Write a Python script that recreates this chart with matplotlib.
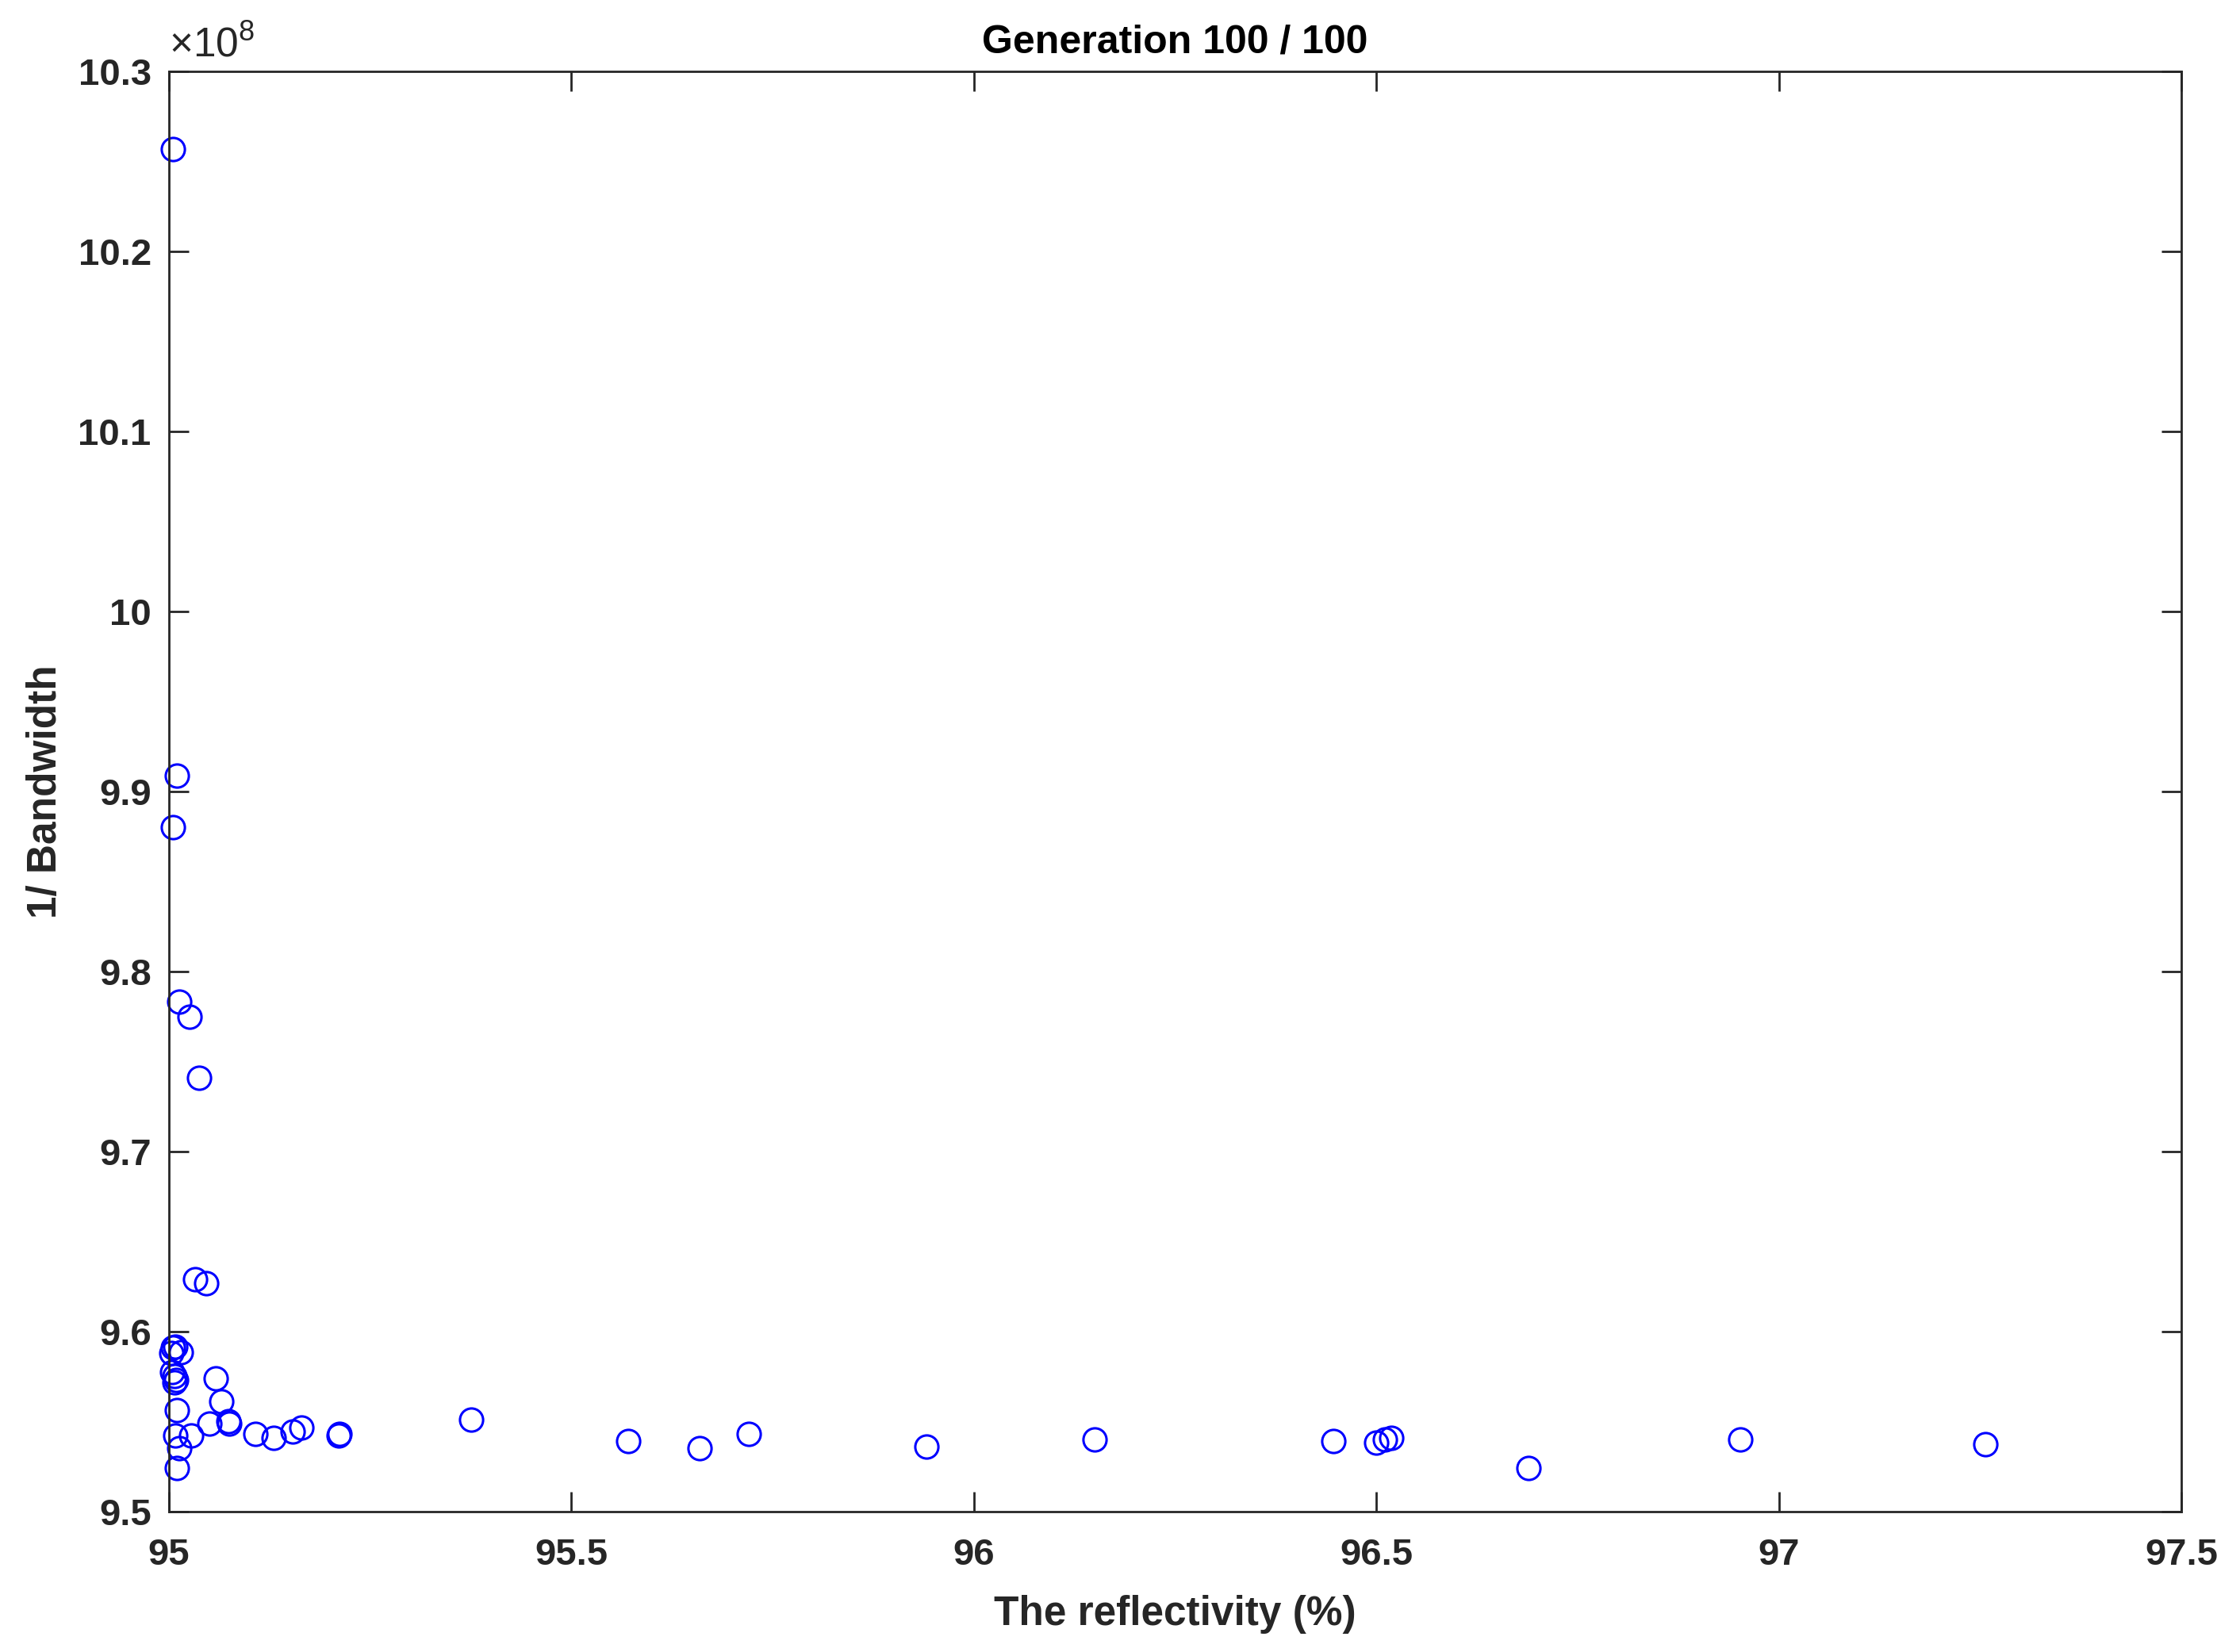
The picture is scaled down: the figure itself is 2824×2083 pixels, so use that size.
import matplotlib
matplotlib.use('Agg')
import matplotlib.pyplot as plt
from matplotlib.ticker import FuncFormatter

# reflectivity (%) and 1/bandwidth (in units of 1e8)
reflectivity = [95.005, 95.010, 95.005, 95.013, 95.026, 95.038, 95.033, 95.046,
                95.005, 95.008, 95.015, 95.003, 95.004, 95.007, 95.009, 95.007,
                95.0585, 95.065, 95.010, 95.050, 95.075, 95.074, 95.028, 95.008,
                95.013, 95.010, 95.107, 95.130, 95.154, 95.165, 95.211, 95.212,
                95.3756, 95.571, 95.659, 95.720, 95.941, 96.150, 96.447, 96.4995,
                96.511, 96.519, 96.689, 96.952, 97.257]
inv_bandwidth = [10.257, 9.909, 9.880, 9.7834, 9.775, 9.741, 9.629, 9.627,
                 9.591, 9.5915, 9.5885, 9.588, 9.5775, 9.5753, 9.573, 9.5717,
                 9.5739, 9.5614, 9.5563, 9.549, 9.549, 9.5504, 9.5423, 9.5423,
                 9.535, 9.524, 9.543, 9.5408, 9.5445, 9.5467, 9.5423, 9.543,
                 9.5511, 9.5392, 9.5353, 9.5432, 9.536, 9.540, 9.5393, 9.5382,
                 9.540, 9.5408, 9.5241, 9.540, 9.5376]
x_ticks = [95, 95.5, 96, 96.5, 97, 97.5]
y_ticks = [9.5, 9.6, 9.7, 9.8, 9.9, 10, 10.1, 10.2, 10.3]

plt.rcParams['font.family'] = ['Liberation Sans', 'DejaVu Sans']
plt.rcParams['mathtext.fontset'] = 'custom'
plt.rcParams['mathtext.rm'] = 'Liberation Sans'

fig = plt.figure(figsize=(14.12, 10.415), dpi=200)
ax = fig.add_axes([0.0754, 0.085, 0.8984, 0.8718])

ax.plot(reflectivity, inv_bandwidth, 'o', mfc='none', mec=(0, 0, 1),
        ms=10.5, mew=1.1, clip_on=False)

ax.set_xlim(95, 97.5)
ax.set_ylim(9.5, 10.3)
ax.set_xticks(x_ticks)
ax.set_yticks(y_ticks)
fmt = FuncFormatter(lambda v, p: '%g' % round(v, 4))
ax.xaxis.set_major_formatter(fmt)
ax.yaxis.set_major_formatter(fmt)

dark = '#262626'
for s in ax.spines.values():
    s.set_color(dark)
    s.set_linewidth(1.0)
ax.tick_params(direction='in', length=9, width=1.0, colors=dark,
               top=True, right=True, labelsize=17, pad=8)
ax.tick_params(axis='x', pad=12)
for lbl in ax.get_xticklabels() + ax.get_yticklabels():
    lbl.set_fontweight('bold')

ax.set_xlabel('The reflectivity (%)', fontsize=18.5, fontweight='bold',
              color=dark, labelpad=10)
ax.set_ylabel('1/ Bandwidth', fontsize=18.5, fontweight='bold',
              color=dark, labelpad=6)
ax.set_title('Generation 100 / 100', fontsize=18, fontweight='bold',
             color='black', pad=8.5)
ax.text(0.0, 1.004, r'$\times\mathregular{10^{8}}$', transform=ax.transAxes,
        fontsize=18.5, color=dark, ha='left', va='bottom')

fig.savefig('out.png', dpi=200, facecolor='white')
